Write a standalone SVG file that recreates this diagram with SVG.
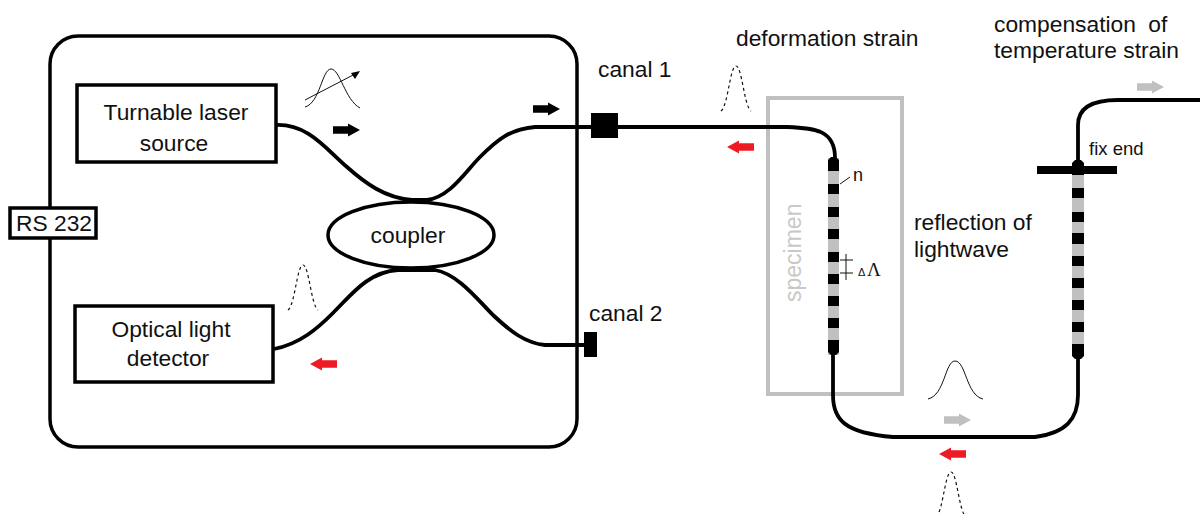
<svg xmlns="http://www.w3.org/2000/svg" width="1200" height="514" viewBox="0 0 1200 514">
<style>
text{font-family:"Liberation Sans",Arial,sans-serif;font-size:22.8px;fill:#111}
.box{fill:#fff;stroke:#000;stroke-width:3.5}
.fiber{fill:none;stroke:#000;stroke-width:3.8}
.thin{fill:none;stroke:#111;stroke-width:1}
.dot{fill:none;stroke:#111;stroke-width:1.2;stroke-dasharray:3 3}
.black{fill:#000}.grey{fill:#c0c0c0}.red{fill:#ed1c24}
</style>
<defs>
<path id="arrow" d="M0-3.7H15V-6.5L27 0L15 6.5V3.7H0Z"/>
<path id="pulse" d="M-15 23C-8 18-6-22 0-22C6-22 8 18 15 23"/>
</defs>
<rect width="1200" height="514" fill="#fff"/>
<g id="instrument"><rect class="box" x="50" y="36" width="527" height="411" rx="28"/></g>
<g id="specimen"><rect x="768" y="98" width="134" height="296" fill="none" stroke="#c0c0c0" stroke-width="4"/>
<text transform="translate(801,302) rotate(-90)" style="fill:#c8c8c8;font-size:23px">specimen</text></g>
<g id="connectors">
<path class="fiber" d="M276 125C308 124 325 148 347 167C365 183 385 198 412 200H427C450 197 465 172 480 157C497 140 510 129 535 127H787C815 128 835 130 835 158V345"/>
<path class="fiber" d="M274 349C300 344 318 328 333 313C352 294 368 272 398 270H435C458 274 478 300 493 315C510 331 525 343 545 345H590"/>
<path class="fiber" d="M833 350V395C833 420 845 433 893 437H1035C1065 433 1078 420 1078 395V350"/>
<path class="fiber" d="M1078 170V125C1078 108 1092 100 1118 100H1200"/>
</g>
<g id="laser"><rect class="box" x="77" y="85" width="199" height="77"/>
<text x="176" y="120" text-anchor="middle">Turnable laser</text><text x="174" y="151" text-anchor="middle">source</text></g>
<g id="detector"><rect class="box" x="75" y="306" width="198" height="76"/>
<text x="171" y="337" text-anchor="middle">Optical light</text><text x="168" y="366" text-anchor="middle">detector</text></g>
<g id="coupler"><ellipse class="box" cx="411" cy="235" rx="83" ry="33"/><text x="408" y="243" text-anchor="middle">coupler</text></g>
<g id="rs232"><rect class="box" x="10" y="208" width="86" height="30"/><text x="54" y="231" text-anchor="middle">RS 232</text></g>
<g id="canal1"><rect class="black" x="591" y="113" width="27" height="25"/><text x="598" y="77">canal 1</text></g>
<g id="canal2"><rect class="black" x="584" y="332" width="13" height="25"/><text x="589" y="321">canal 2</text></g>
<g id="grating1">
<rect class="grey" x="828" y="158" width="11" height="197"/>
<path class="black" d="M828 160L831 157H836L839 160V171H828ZM828 184h11v10h-11ZM828 207h11v10h-11ZM828 229h11v10h-11ZM828 252h11v10h-11ZM828 274h11v10h-11ZM828 296h11v10h-11ZM828 318h11v10h-11ZM828 340h11v12L836 355H831L828 352Z"/>
<path class="thin" d="M840 184L850 177M846 254V280M840 260H853M840 273H853"/>
<text x="853" y="181" style="font-size:18px">n</text>
<text x="858" y="276" style="font-size:11px">Δ</text><text x="867" y="276" style="font-size:19px;font-family:'Liberation Serif',serif">Λ</text>
</g>
<g id="grating2">
<rect class="grey" x="1072" y="170" width="12" height="180"/>
<path class="black" d="M1072 188h12v10h-12ZM1072 212h12v10h-12ZM1072 233h12v11h-12ZM1072 256h12v10h-12ZM1072 278h12v10h-12ZM1072 300h12v10h-12ZM1072 322h12v10h-12ZM1072 344h12v12L1081 359H1075L1072 356Z"/>
<rect class="black" x="1037" y="166" width="80" height="8"/>
<path class="black" d="M1072 175V163L1075 160H1081L1084 163V175Z"/>
<text x="1089" y="155" style="font-size:18.5px">fix end</text>
</g>
<g id="pulses">
<path class="thin" d="M305 107C320 103 322 69 331 69C340 69 345 100 360 108"/>
<path class="thin" d="M305 100L355 74"/><path class="black" d="M360 71L351 73L355 79Z"/>
<use href="#pulse" class="dot" transform="translate(736,88)"/>
<use href="#pulse" class="dot" transform="translate(303,287)"/>
<use href="#pulse" class="dot" transform="translate(951,494)"/>
<path class="thin" d="M928 399C945 395 945 361 955 361C966 361 966 395 983 399"/>
</g>
<g id="arrows">
<use href="#arrow" class="black" transform="translate(333,130)"/>
<use href="#arrow" class="black" transform="translate(533,109)"/>
<use href="#arrow" class="red" transform="translate(754,147) scale(-1,1)"/>
<use href="#arrow" class="red" transform="translate(337,364) scale(-1,1)"/>
<use href="#arrow" class="red" transform="translate(966,454) scale(-1,1)"/>
<use href="#arrow" class="grey" transform="translate(944,420)"/>
<use href="#arrow" class="grey" transform="translate(1137,87)"/>
</g>
<g id="labels">
<text x="736" y="46">deformation strain</text>
<text x="994" y="32" style="word-spacing:6px">compensation of</text>
<text x="994" y="58">temperature strain</text>
<text x="914" y="230">reflection of</text>
<text x="914" y="257">lightwave</text>
</g>
</svg>
